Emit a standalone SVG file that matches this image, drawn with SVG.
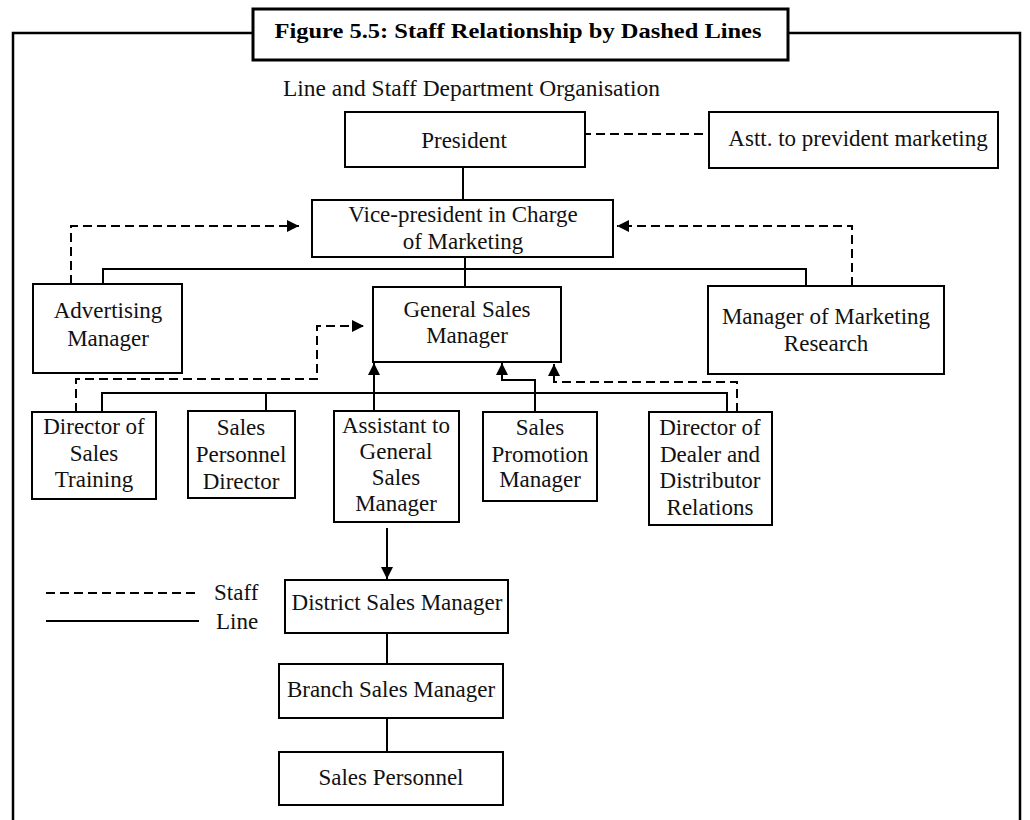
<svg xmlns="http://www.w3.org/2000/svg" width="1030" height="820" viewBox="0 0 1030 820">
  <style>
    .box { fill: #fff; stroke: #000; stroke-width: 2; }
    .lbl { font-family: "Liberation Serif", "Times New Roman", serif; font-size: 23px; fill: #111; text-anchor: middle; }
    .line { fill: none; stroke: #000; stroke-width: 2; }
    .staff { fill: none; stroke: #000; stroke-width: 2; stroke-dasharray: 9 5; }
    .frame { fill: none; stroke: #000; stroke-width: 2.5; }
  </style>
  <defs>
    <marker id="arrow" markerUnits="userSpaceOnUse" markerWidth="13" markerHeight="12" refX="12" refY="6" orient="auto">
      <path d="M0,0 L12,6 L0,12 Z" fill="#000"/>
    </marker>
  </defs>
  <rect width="1030" height="820" fill="#fff"/>

  <!-- outer frame and caption -->
  <g id="frame">
    <path class="frame" d="M253,33 H13 V820 M788,33 H1020 V820"/>
    <rect x="253" y="9" width="535" height="51" fill="#fff" stroke="#000" stroke-width="3"/>
    <text x="518" y="38" font-family="Liberation Serif, Times New Roman, serif" font-size="22" font-weight="bold" text-anchor="middle" textLength="487" lengthAdjust="spacingAndGlyphs">Figure 5.5: Staff Relationship by Dashed Lines</text>
    <text x="283" y="96" font-family="Liberation Serif, Times New Roman, serif" font-size="23" fill="#111" textLength="377" lengthAdjust="spacingAndGlyphs">Line and Staff Department Organisation</text>
  </g>

  <!-- connectors -->
  <g id="connectors">
    <!-- line authority -->
    <path class="line" d="M463,167 V200"/>
    <path class="line" d="M465,257 V287 M103,284 V269 H806 V286"/>
    <path class="line" d="M102,412 V393 H727 V412 M266,393 V411"/>
    <path class="line" d="M374,411 V363" marker-end="url(#arrow)"/>
    <path class="line" d="M535,412 V380 H502 V363" marker-end="url(#arrow)"/>
    <path class="line" d="M387,528 V579" stroke-width="2.5" marker-end="url(#arrow)"/>
    <path class="line" d="M387,632 V664 M387,718 V752"/>
    <!-- staff relationships -->
    <path class="staff" d="M582,134 H709"/>
    <path class="staff" d="M71,284 V226 H299" marker-end="url(#arrow)"/>
    <path class="staff" d="M852,286 V226 H617" marker-end="url(#arrow)"/>
    <path class="staff" d="M76,412 V379 H317 V326 H364" marker-end="url(#arrow)"/>
    <path class="staff" d="M737,412 V382 H554 V364" marker-end="url(#arrow)"/>
  </g>

  <!-- legend -->
  <g id="legend">
    <path class="staff" d="M46,593 H199"/>
    <text x="214" y="600" font-family="Liberation Serif, Times New Roman, serif" font-size="23" fill="#111">Staff</text>
    <path class="line" d="M46,621 H199"/>
    <text x="216" y="629" font-family="Liberation Serif, Times New Roman, serif" font-size="23" fill="#111">Line</text>
  </g>

  <g id="president">
    <rect class="box" x="345" y="112" width="240" height="55"/>
    <text class="lbl" x="464" y="148">President</text>
  </g>
  <g id="asst-president">
    <rect class="box" x="709" y="112" width="289" height="56"/>
    <text class="lbl" x="858" y="146">Astt. to prevident marketing</text>
  </g>
  <g id="vp-marketing">
    <rect class="box" x="312" y="200" width="301" height="57"/>
    <text class="lbl" x="463" y="222">Vice-president in Charge</text>
    <text class="lbl" x="463" y="249">of Marketing</text>
  </g>
  <g id="advertising-manager">
    <rect class="box" x="33" y="284" width="149" height="89"/>
    <text class="lbl" x="108" y="318">Advertising</text>
    <text class="lbl" x="108" y="346">Manager</text>
  </g>
  <g id="general-sales-manager">
    <rect class="box" x="373" y="287" width="188" height="75"/>
    <text class="lbl" x="467" y="317">General Sales</text>
    <text class="lbl" x="467" y="343">Manager</text>
  </g>
  <g id="marketing-research">
    <rect class="box" x="708" y="286" width="236" height="88"/>
    <text class="lbl" x="826" y="324">Manager of Marketing</text>
    <text class="lbl" x="826" y="351">Research</text>
  </g>
  <g id="sales-training">
    <rect class="box" x="32" y="412" width="124" height="87"/>
    <text class="lbl" x="94" y="434">Director of</text>
    <text class="lbl" x="94" y="461">Sales</text>
    <text class="lbl" x="94" y="487">Training</text>
  </g>
  <g id="sales-personnel-director">
    <rect class="box" x="188" y="411" width="107" height="87"/>
    <text class="lbl" x="241" y="435">Sales</text>
    <text class="lbl" x="241" y="462">Personnel</text>
    <text class="lbl" x="241" y="489">Director</text>
  </g>
  <g id="assistant-gsm">
    <rect class="box" x="334" y="411" width="125" height="111"/>
    <text class="lbl" x="396" y="433">Assistant to</text>
    <text class="lbl" x="396" y="459">General</text>
    <text class="lbl" x="396" y="485">Sales</text>
    <text class="lbl" x="396" y="511">Manager</text>
  </g>
  <g id="sales-promotion">
    <rect class="box" x="483" y="412" width="114" height="89"/>
    <text class="lbl" x="540" y="435">Sales</text>
    <text class="lbl" x="540" y="462">Promotion</text>
    <text class="lbl" x="540" y="487">Manager</text>
  </g>
  <g id="dealer-relations">
    <rect class="box" x="649" y="412" width="123" height="113"/>
    <text class="lbl" x="710" y="435">Director of</text>
    <text class="lbl" x="710" y="462">Dealer and</text>
    <text class="lbl" x="710" y="488">Distributor</text>
    <text class="lbl" x="710" y="515">Relations</text>
  </g>
  <g id="district-sales">
    <rect class="box" x="285" y="580" width="223" height="53"/>
    <text class="lbl" x="397" y="610">District Sales Manager</text>
  </g>
  <g id="branch-sales">
    <rect class="box" x="279" y="664" width="224" height="54"/>
    <text class="lbl" x="391" y="697">Branch Sales Manager</text>
  </g>
  <g id="sales-personnel">
    <rect class="box" x="279" y="752" width="224" height="53"/>
    <text class="lbl" x="391" y="785">Sales Personnel</text>
  </g>
</svg>
